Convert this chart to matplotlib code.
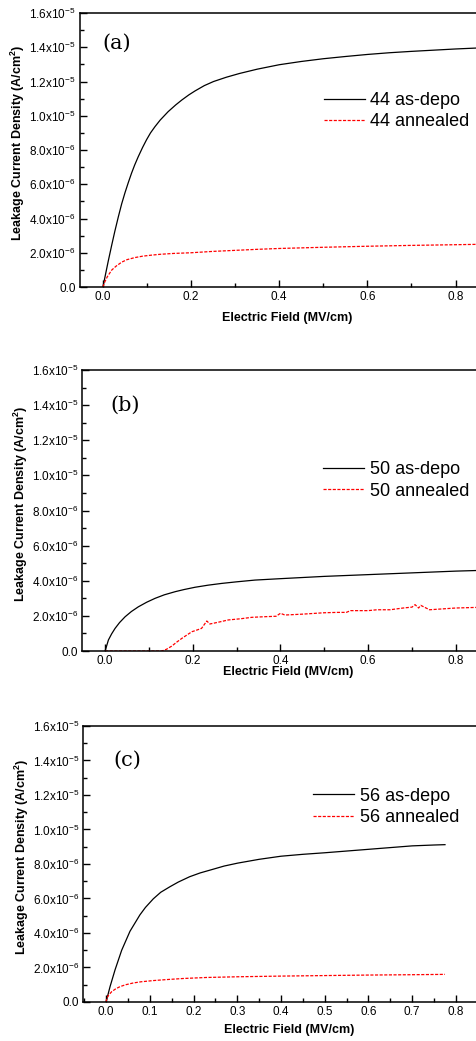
import matplotlib
matplotlib.use("Agg")
import matplotlib.pyplot as plt
from matplotlib.ticker import MultipleLocator, FuncFormatter

plt.rcParams['font.family'] = ['Liberation Sans Narrow', 'Liberation Sans', 'DejaVu Sans']
plt.rcParams['mathtext.fontset'] = 'custom'
plt.rcParams['mathtext.rm'] = 'Liberation Sans'
plt.rcParams['mathtext.bf'] = 'Liberation Sans:bold'

# (a) sample 44, current density in 1e-6 A/cm2
a_depo_x = [0, 0.006, 0.012, 0.02, 0.027, 0.035, 0.0425, 0.05, 0.0576, 0.065, 0.072, 0.080, 0.09, 0.099,
            0.108, 0.118, 0.13, 0.148, 0.165, 0.179, 0.195, 0.209, 0.23, 0.251, 0.28, 0.31, 0.35, 0.40,
            0.45, 0.50, 0.55, 0.60, 0.65, 0.70, 0.75, 0.80, 0.87]
a_depo_y = [0, 0.75, 1.5, 2.45, 3.25, 4.1, 4.85, 5.5, 6.1, 6.65, 7.12, 7.6, 8.15, 8.6,
            9.0, 9.36, 9.75, 10.24, 10.63, 10.92, 11.22, 11.45, 11.76, 12.0, 12.25, 12.47, 12.72, 12.98,
            13.17, 13.33, 13.46, 13.58, 13.68, 13.76, 13.83, 13.9, 13.98]
a_ann_x = [0, 0.0045, 0.01, 0.02, 0.03, 0.0425, 0.055, 0.0727, 0.09, 0.11, 0.13, 0.16, 0.20, 0.25,
           0.30, 0.35, 0.40, 0.50, 0.60, 0.70, 0.80, 0.87]
a_ann_y = [0, 0.31, 0.6, 0.99, 1.22, 1.45, 1.6, 1.72, 1.8, 1.86, 1.91, 1.96, 2.0, 2.08,
           2.14, 2.2, 2.25, 2.32, 2.38, 2.43, 2.47, 2.5]

# (b) sample 50
b_depo_x = [0, 0.0076, 0.015, 0.0228, 0.033, 0.0456, 0.06, 0.076, 0.095, 0.114, 0.135, 0.16, 0.18,
            0.205, 0.235, 0.266, 0.30, 0.342, 0.40, 0.50, 0.60, 0.70, 0.80, 0.87]
b_depo_y = [0, 0.63, 0.98, 1.29, 1.62, 1.95, 2.25, 2.52, 2.78, 3.0, 3.2, 3.38, 3.5,
            3.63, 3.75, 3.85, 3.94, 4.04, 4.12, 4.25, 4.35, 4.45, 4.55, 4.6]
b_ann_x = [0, 0.129, 0.14, 0.152, 0.163, 0.175, 0.187, 0.198, 0.21, 0.22, 0.232, 0.239, 0.26, 0.281,
           0.31, 0.335, 0.36, 0.39, 0.40, 0.41, 0.45, 0.50, 0.53, 0.55, 0.56, 0.60, 0.62, 0.65,
           0.68, 0.70, 0.707, 0.715, 0.72, 0.74, 0.80, 0.87]
b_ann_y = [0, 0, 0.1, 0.28, 0.5, 0.72, 0.92, 1.1, 1.2, 1.29, 1.71, 1.54, 1.65, 1.77,
           1.84, 1.92, 1.95, 1.98, 2.15, 2.05, 2.1, 2.18, 2.2, 2.2, 2.3, 2.3, 2.35, 2.35,
           2.45, 2.5, 2.64, 2.45, 2.6, 2.35, 2.45, 2.5]

# (c) sample 56
c_depo_x = [0, 0.0091, 0.0205, 0.0357, 0.0547, 0.0774, 0.09, 0.108, 0.125, 0.146, 0.165, 0.191,
            0.215, 0.244, 0.27, 0.301, 0.35, 0.40, 0.45, 0.50, 0.55, 0.60, 0.65, 0.70, 0.75, 0.775]
c_depo_y = [0, 0.89, 1.86, 3.0, 4.1, 5.05, 5.48, 5.98, 6.36, 6.68, 6.95, 7.26,
            7.48, 7.69, 7.88, 8.05, 8.27, 8.45, 8.56, 8.65, 8.75, 8.85, 8.95, 9.05, 9.1, 9.12]
c_ann_x = [0, 0.0015, 0.006, 0.013, 0.022, 0.032, 0.045, 0.062, 0.08, 0.108, 0.14, 0.176, 0.23,
           0.30, 0.40, 0.50, 0.60, 0.70, 0.775]
c_ann_y = [0, 0.2, 0.4, 0.6, 0.76, 0.89, 1.0, 1.1, 1.17, 1.24, 1.3, 1.36, 1.42,
           1.46, 1.5, 1.53, 1.56, 1.58, 1.6]

panels = [
    dict(tag='(a)', name='44', dx=a_depo_x, dy=a_depo_y, ax_=a_ann_x, ay=a_ann_y,
         pos=[0.1677, 0.7243, 0.852, 0.2632], leg=(0.600, 0.712), lab=(0.091, 0.89),
         xlab_y=-0.091, xmaj=0.2),
    dict(tag='(b)', name='50', dx=b_depo_x, dy=b_depo_y, ax_=b_ann_x, ay=b_ann_y,
         pos=[0.1725, 0.3746, 0.8475, 0.270], leg=(0.596, 0.676), lab=(0.106, 0.875),
         xlab_y=-0.053, xmaj=0.2),
    dict(tag='(c)', name='56', dx=c_depo_x, dy=c_depo_y, ax_=c_ann_x, ay=c_ann_y,
         pos=[0.1747, 0.0375, 0.8453, 0.2651], leg=(0.570, 0.776), lab=(0.11, 0.877),
         xlab_y=-0.08, xmaj=0.1),
]


def ytick_fmt(v, pos):
    if abs(v) < 1e-12:
        return '0.0'
    exp = -5 if v >= 1e-5 - 1e-12 else -6
    return '%.1fx10$^{%d}$' % (v / 10 ** exp, exp)


fig = plt.figure(figsize=(4.77, 10.41), dpi=100)

for p in panels:
    ax = fig.add_axes(p['pos'])
    ax.plot(p['dx'], [v * 1e-6 for v in p['dy']], color='black', lw=0.9,
            label=p['name'] + ' as-depo')
    ax.plot(p['ax_'], [v * 1e-6 for v in p['ay']], color='red', lw=0.9,
            linestyle=(0, (2.5, 1.2)), label=p['name'] + ' annealed')
    ax.set_xlim(-0.052, 0.87)
    ax.set_ylim(0, 1.6e-5)
    ax.xaxis.set_major_locator(MultipleLocator(p['xmaj']))
    ax.xaxis.set_minor_locator(MultipleLocator(p['xmaj'] / 2))
    ax.yaxis.set_major_locator(MultipleLocator(2e-6))
    ax.yaxis.set_minor_locator(MultipleLocator(1e-6))
    ax.yaxis.set_major_formatter(FuncFormatter(ytick_fmt))
    ax.xaxis.set_major_formatter(FuncFormatter(lambda v, pos: '%.1f' % v))
    ax.tick_params(which='both', direction='in', top=False, right=False,
                   labelsize=8.5, pad=3, width=1)
    ax.tick_params(which='major', length=5)
    ax.tick_params(which='minor', length=3)
    for s in ax.spines.values():
        s.set_linewidth(1.1)
    ax.set_ylabel('Leakage Current Density (A/cm$^\\mathbf{2}$)', fontsize=9, fontweight='bold')
    ax.yaxis.set_label_coords(-0.13, 0.525)
    ax.set_xlabel('Electric Field (MV/cm)', fontsize=9, fontweight='bold', va='top')
    ax.xaxis.set_label_coords(0.51, p['xlab_y'])
    ax.legend(loc='upper left', bbox_to_anchor=p['leg'], frameon=False,
              prop={'family': 'Liberation Sans', 'size': 13},
              handlelength=2.27, handletextpad=0.3, labelspacing=0.25,
              borderpad=0, borderaxespad=0)
    ax.text(p['lab'][0], p['lab'][1], p['tag'], transform=ax.transAxes,
            fontsize=15, family='DejaVu Serif', ha='center', va='center')

fig.savefig('out.png', dpi=100)
